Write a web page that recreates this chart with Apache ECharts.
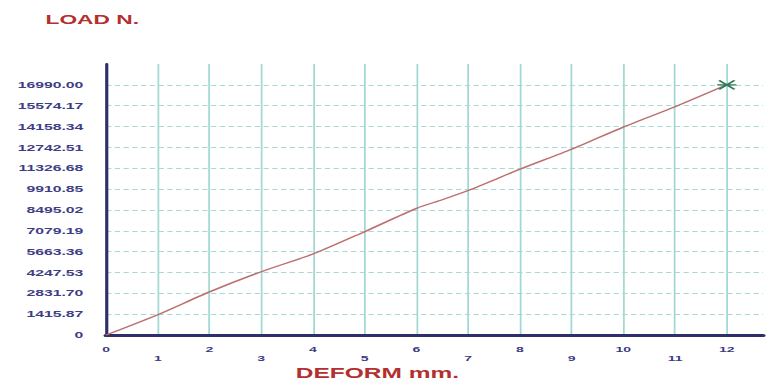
<!DOCTYPE html>
<html>
<head>
<meta charset="utf-8">
<script src="https://cdn.jsdelivr.net/npm/echarts@6/dist/echarts.min.js"></script>
<style>
  html, body { margin: 0; padding: 0; background: #fff; overflow: hidden; width: 769px; height: 385px; }
  #c { width: 439.43px; height: 385px; transform: scaleX(1.75); transform-origin: 0 0; }
</style>
</head>
<body>
<div id="c"></div>
<script>
// ---- data ----
const deform = [0, 1, 2, 3, 4, 5, 6, 6.5, 7, 8, 9, 10, 11, 12];
const load   = [0, 1380, 2930, 4300, 5500, 7020, 8600, 9190, 9810, 11260, 12620, 14120, 15500, 16990];
const xTickLabels = ['0','1','2','3','4','5','6','7','8','9','10','11','12'];
const yTickLabels = ['0','1415.87','2831.70','4247.53','5663.36','7079.19','8495.02',
                     '9910.85','11326.68','12742.51','14158.34','15574.17','16990.00'];
const yStep = 16990 / 12;

const chart = echarts.init(document.getElementById('c'), null, { renderer: 'svg' });

const seriesData = deform.map((x, i) => {
  if (i === deform.length - 1) {
    return {
      value: [x, load[i]],
      symbol: 'path://M-10,0L10,0M-8,-6L8,6M-8,6L8,-6',
      symbolSize: [11, 9],
      symbolKeepAspect: false,
      itemStyle: { color: 'rgba(0,0,0,0)', borderColor: '#2f7a55', borderWidth: 1.4 }
    };
  }
  return { value: [x, load[i]], symbol: 'none' };
});

chart.setOption({
  animation: false,
  backgroundColor: '#ffffff',
  title: [
    { text: 'LOAD N.', left: 21, top: 8,
      textStyle: { fontFamily: 'Liberation Sans', fontWeight: 'bold', fontSize: 13, color: '#b3302e' } },
    { text: 'DEFORM mm.', left: 169, top: 365, padding: 0,
      textStyle: { fontFamily: 'Liberation Sans', fontWeight: 'bold', fontSize: 14, lineHeight: 16, color: '#b3302e' } }
  ],
  grid: { left: 60.6, right: 0.6, top: 64, bottom: 50, containLabel: false },
  xAxis: {
    type: 'value', min: 0, max: 12.7, interval: 1,
    axisLine: { show: true, lineStyle: { color: '#2e2e6a', width: 3 } },
    axisTick: { show: false },
    axisLabel: {
      margin: 10,
      fontFamily: 'Liberation Sans', fontWeight: 'bold', fontSize: 8, lineHeight: 9,
      color: '#3a3a80',
      formatter: function (v) {
        const i = Math.round(v);
        if (Math.abs(v - i) > 1e-6 || i >= xTickLabels.length) return '';
        return (i % 2 === 1) ? '\n' + xTickLabels[i] : xTickLabels[i];
      }
    },
    splitLine: { show: true, showMinLine: false, showMaxLine: false,
      lineStyle: { color: '#a2d8d2', width: 1, type: 'solid' } }
  },
  yAxis: {
    type: 'value', min: 0, max: yStep * 13, interval: yStep,
    axisLine: { show: true, lineStyle: { color: '#2e2e6a', width: 1.8 } },
    axisTick: { show: false },
    axisLabel: {
      margin: 13,
      fontFamily: 'Liberation Sans', fontWeight: 'bold', fontSize: 9,
      color: '#3e3e86',
      formatter: function (v) {
        const i = Math.round(v / yStep);
        return i < yTickLabels.length ? yTickLabels[i] : '';
      }
    },
    splitLine: { show: true, showMinLine: false, showMaxLine: false,
      lineStyle: { color: '#a6dad4', width: 1, type: [3, 2] } }
  },
  series: [{
    type: 'line',
    data: seriesData,
    smooth: 0.25,
    showAllSymbol: true,
    lineStyle: { color: '#bd7070', width: 1.3 },
    itemStyle: { color: '#bd7070' },
    emphasis: { disabled: true }
  }]
});
</script>
</body>
</html>
